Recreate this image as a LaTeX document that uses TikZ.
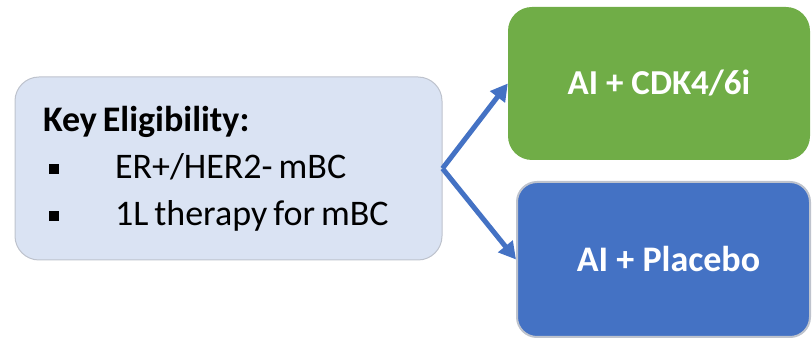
\documentclass[tikz,border=0pt]{standalone}
\usepackage{fontspec}
\setmainfont{Carlito}
\usepackage{tikz}
\usetikzlibrary{
  arrows.meta,
  positioning
}
\definecolor{EligBlue}{RGB}{218,227,243}
\definecolor{ArmGreen}{RGB}{112,173,71}
\definecolor{ArmBlue}{RGB}{68,114,196}
\definecolor{EdgeGray}{RGB}{190,195,205}
\tikzset{
  eligbox/.style={draw=EdgeGray,line width=1pt,fill=EligBlue,rounded corners=24pt,minimum width=427pt,minimum height=183pt,inner xsep=28pt,text width=371pt,align=left,font=\fontsize{36}{47}\selectfont},
  armgreen/.style={fill=ArmGreen,rounded corners=24pt,minimum width=302pt,minimum height=153pt,text=white,font=\fontsize{35}{40}\selectfont\bfseries},
  armblue/.style={draw=EdgeGray,line width=2pt,fill=ArmBlue,rounded corners=20pt,minimum width=293pt,minimum height=155pt,text=white,font=\fontsize{36}{40}\selectfont\bfseries},
  randarrow/.style={-{Triangle[length=17pt,width=18pt]},line width=5pt,draw=ArmBlue}
}
\newcommand{\sqbullet}{\makebox[72pt][l]{\hspace{6pt}\rule[4pt]{10pt}{10pt}}}

\begin{document}
\begin{tikzpicture}[x=1pt,y=1pt]
\useasboundingbox (0,0) rectangle (812,340);
\node[eligbox] (elig) at (228.5,171.5) {\spaceskip=6pt plus 2pt\textbf{Key Eligibility:}\\
  \sqbullet ER+/HER2- mBC\\
  \sqbullet 1L therapy for mBC};
\node[armgreen] (cdk) at (659,256.5) {\raisebox{-4pt}{AI + CDK4/6i}};
\node[armblue] (placebo) at (663.5,80.5) {\hspace{10pt}AI + Placebo};
\draw[randarrow] (elig.east) -- (cdk.west);
\draw[randarrow] (elig.east) -- (placebo.west);
\end{tikzpicture}
\end{document}
